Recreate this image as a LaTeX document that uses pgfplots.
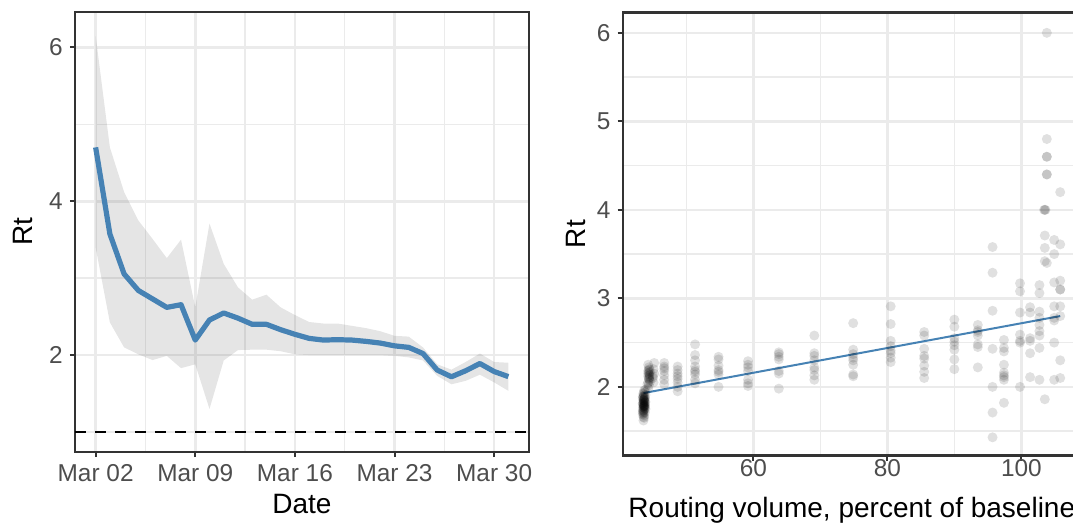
\documentclass[border=0pt]{standalone}
\usepackage{fontspec}
\setmainfont{Liberation Sans}
\usepackage{pgfplots}
\pgfplotsset{compat=1.18}
\definecolor{gridmaj}{HTML}{EBEBEB}
\definecolor{frame}{HTML}{333333}
\definecolor{ticklab}{HTML}{4D4D4D}
\definecolor{steel}{HTML}{4682B4}
\pgfplotsset{
  gg/.style={
    scale only axis,
    axis line style={frame, line width=1.2pt},
    tick align=outside,
    tick pos=left,
    major tick length=2.6pt,
    minor tick length=0pt,
    tick style={frame, line width=1pt},
    grid=both,
    major grid style={gridmaj, line width=1.3pt},
    minor grid style={gridmaj, line width=0.65pt},
    ticklabel style={font=\fontsize{12.2}{14}\selectfont, text=ticklab},
    /pgf/number format/assume math mode=true,
    every axis x label/.style={at={(axis description cs:0.5,0)}, anchor=base, yshift=-31pt, font=\fontsize{14}{16}\selectfont, text=black},
  }
}
\begin{document}
\begin{tikzpicture}
% ---------------- left panel ----------------
\begin{axis}[gg,
  at={(37.5pt,38.5pt)}, anchor=south west,
  width=227pt, height=220pt,
  xmin=0.55, xmax=32.45, ymin=0.74, ymax=6.46,
  xtick={2,9,16,23,30},
  xticklabels={Mar 02,Mar 09,Mar 16,Mar 23,Mar 30},
  xticklabel style={anchor=base, yshift=-12pt},
  minor xtick={5.5,12.5,19.5,26.5},
  ytick={2,4,6}, minor ytick={1,3,5},
  xlabel={Date}, ylabel={Rt},
  every axis y label/.style={at={(axis description cs:-0.1145,0.5)}, rotate=90, anchor=center, font=\fontsize{14}{16}\selectfont, text=black},
]
\addplot[draw=none, fill=black, fill opacity=0.1] coordinates {
 (2,6.15) (3,4.70) (4,4.12) (5,3.75) (6,3.51) (7,3.26) (8,3.50) (9,2.62) (10,3.71)
 (11,3.185) (12,2.88) (13,2.72) (14,2.785) (15,2.62) (16,2.52) (17,2.43) (18,2.41)
 (19,2.41) (20,2.38) (21,2.35) (22,2.31) (23,2.25) (24,2.24) (25,2.10) (26,1.88)
 (27,1.81) (28,1.91) (29,2.02) (30,1.91) (31,1.90)
 (31,1.535) (30,1.645) (29,1.745) (28,1.665) (27,1.62) (26,1.73) (25,1.93) (24,1.97)
 (23,1.99) (22,2.00) (21,2.00) (20,2.00) (19,2.00) (18,2.00) (17,2.00) (16,2.01)
 (15,2.05) (14,2.07) (13,2.07) (12,2.065) (11,1.93) (10,1.30) (9,1.88) (8,1.83)
 (7,1.99) (6,1.935) (5,2.01) (4,2.10) (3,2.425) (2,3.40)
} -- cycle;
\addplot[black, line width=1.1pt, dash pattern=on 5.5pt off 4.5pt] coordinates {(0.55,1) (32.45,1)};
\addplot[steel, line width=2.6pt, line join=round] coordinates {
 (2,4.70) (3,3.575) (4,3.055) (5,2.84) (6,2.73) (7,2.62) (8,2.655) (9,2.195)
 (10,2.456) (11,2.547) (12,2.48) (13,2.40) (14,2.40) (15,2.33) (16,2.27) (17,2.217)
 (18,2.195) (19,2.20) (20,2.195) (21,2.178) (22,2.156) (23,2.12) (24,2.10) (25,2.02)
 (26,1.805) (27,1.718) (28,1.796) (29,1.89) (30,1.786) (31,1.72)
};
\end{axis}
% ---------------- right panel ----------------
\begin{axis}[gg,
  at={(311.35pt,36.65pt)}, anchor=south west,
  width=229.14pt, height=221.5pt,
  xmin=40.5, xmax=108.9, ymin=1.2225, ymax=6.2275,
  xtick={60,80,100}, minor xtick={50,70,90},
  xticklabel style={anchor=base, yshift=-8pt},
  ytick={2,3,4,5,6}, minor ytick={1.5,2.5,3.5,4.5,5.5},
  xlabel={Routing volume, percent of baseline}, ylabel={Rt},
  every axis y label/.style={at={(axis description cs:-0.103,0.5)}, rotate=90, anchor=center, font=\fontsize{14}{16}\selectfont, text=black},
]
\addplot[only marks, mark=*, mark size=2.5pt, mark options={draw opacity=0, fill=black, fill opacity=0.12}] coordinates {
 (43.6,1.62) (43.6,1.66) (43.7,1.68) (43.6,1.70) (43.8,1.71) (43.6,1.73) (43.7,1.74) (43.5,1.75)
 (43.8,1.76) (43.6,1.77) (43.7,1.78) (43.6,1.79) (43.8,1.80) (43.5,1.81) (43.7,1.82) (43.6,1.83)
 (43.8,1.84) (43.6,1.85) (43.7,1.86) (43.5,1.87) (43.8,1.88) (43.6,1.89) (43.7,1.90) (43.6,1.92)
 (43.8,1.94) (43.7,1.96) (43.6,1.72) (43.7,1.76) (43.6,1.80) (43.7,1.84) (43.6,1.88) (43.8,1.78)
 (43.5,1.69) (43.7,1.65) (43.6,1.82) (43.7,1.79)
 (43.5,1.73) (43.9,1.75) (43.6,1.77) (43.8,1.79) (43.5,1.81) (43.9,1.83) (43.6,1.85) (43.8,1.87)
 (43.5,1.89) (43.9,1.91) (43.6,1.78) (43.8,1.82) (43.7,1.86) (43.6,1.93) (43.9,1.97) (43.5,1.71)
 (44.3,1.98) (44.4,2.02) (44.3,2.05) (44.5,2.08) (44.4,2.10) (44.3,2.12) (44.5,2.14) (44.4,2.16)
 (44.3,2.18) (44.5,2.20) (44.4,2.22) (44.3,2.25) (44.6,2.06) (44.5,2.13)
 (44.4,2.09) (44.5,2.11) (44.3,2.15) (44.6,2.17) (44.4,2.19) (44.2,2.03)
 (45.1,2.05) (45.0,2.10) (45.2,2.15) (45.1,2.20) (45.2,2.27) (45.0,2.12)
 (46.7,2.03) (46.7,2.08) (46.7,2.13) (46.7,2.18) (46.7,2.21) (46.7,2.23) (46.7,2.27)
 (48.7,1.95) (48.7,2.00) (48.7,2.05) (48.7,2.09) (48.7,2.12) (48.7,2.15) (48.7,2.19) (48.7,2.23)
 (51.3,2.04) (51.3,2.08) (51.3,2.14) (51.3,2.17) (51.3,2.19) (51.3,2.23) (51.3,2.30) (51.3,2.36) (51.3,2.48)
 (54.8,2.00) (54.8,2.14) (54.8,2.17) (54.8,2.19) (54.8,2.24) (54.8,2.31) (54.8,2.34)
 (59.2,2.01) (59.2,2.04) (59.2,2.08) (59.2,2.18) (59.2,2.22) (59.2,2.25) (59.2,2.29)
 (63.8,1.98) (63.8,2.15) (63.8,2.18) (63.8,2.31) (63.8,2.34) (63.8,2.37) (63.8,2.39)
 (69.1,2.08) (69.1,2.13) (69.1,2.19) (69.1,2.22) (69.1,2.30) (69.1,2.35) (69.1,2.38) (69.1,2.58)
 (74.9,2.12) (74.9,2.14) (74.9,2.25) (74.9,2.30) (74.9,2.33) (74.9,2.37) (74.9,2.42) (74.9,2.72)
 (80.5,2.28) (80.5,2.33) (80.5,2.38) (80.5,2.41) (80.5,2.46) (80.5,2.52) (80.5,2.71) (80.5,2.91)
 (85.5,2.10) (85.5,2.17) (85.5,2.24) (85.5,2.32) (85.5,2.35) (85.5,2.43) (85.5,2.58) (85.5,2.62)
 (90.0,2.20) (90.0,2.31) (90.0,2.42) (90.0,2.47) (90.0,2.51) (90.0,2.55) (90.0,2.68) (90.0,2.76)
 (93.5,2.22) (93.5,2.45) (93.5,2.48) (93.5,2.58) (93.5,2.62) (93.5,2.64) (93.5,2.70)
 (95.7,1.43) (95.7,1.71) (95.7,2.00) (95.7,2.43) (95.7,2.86) (95.7,3.29) (95.7,3.58)
 (97.4,1.82) (97.4,2.08) (97.4,2.11) (97.4,2.13) (97.4,2.16) (97.4,2.25) (97.4,2.40) (97.4,2.44) (97.4,2.53)
 (99.8,2.00) (99.8,2.50) (99.8,2.52) (99.8,2.59) (99.8,2.84) (99.8,3.08) (99.8,3.17)
 (101.3,2.11) (101.3,2.38) (101.3,2.52) (101.3,2.55) (101.3,2.84) (101.3,2.90)
 (102.7,2.08) (102.7,2.44) (102.7,2.58) (102.7,2.63) (102.7,2.70) (102.7,2.78) (102.7,2.85) (102.7,3.06) (102.7,3.15)
 (103.5,1.86) (103.5,3.42) (103.5,3.57) (103.5,3.71) (103.5,4.00) (103.4,4.00) (103.6,4.00)
 (103.8,3.40) (103.8,4.40) (103.8,4.40) (103.8,4.60) (103.8,4.60) (103.8,4.80) (103.8,6.00)
 (104.9,2.08) (104.9,2.50) (104.9,2.75) (104.9,2.78) (104.9,2.91) (104.9,3.18) (104.9,3.50) (104.9,3.66)
 (105.8,2.10) (105.8,2.30) (105.8,2.80) (105.8,2.91) (105.8,3.10) (105.8,3.10) (105.8,3.20) (105.8,3.61) (105.8,4.20)
};
\addplot[steel, line width=1pt] coordinates {(43.6,1.93) (105.8,2.80)};
\end{axis}
\pgfresetboundingbox
\useasboundingbox (0,0) rectangle (536.5pt,264.5pt);
\end{tikzpicture}
\end{document}
